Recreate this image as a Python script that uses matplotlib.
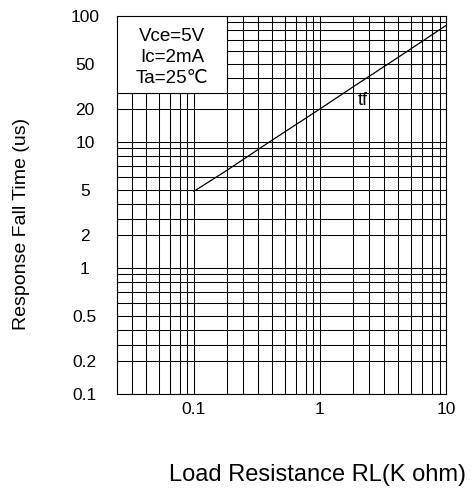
import numpy as np
import matplotlib
matplotlib.use("Agg")
import matplotlib.pyplot as plt
from matplotlib.patches import Rectangle
from matplotlib.ticker import FixedLocator, NullFormatter

plt.rcParams['font.family'] = ['Liberation Sans', 'DejaVu Sans']

# ---- Data ----
rl = [0.1, 0.2, 0.5, 1, 2, 5, 10]          # load resistance (K ohm)
tf = [4.9, 6.6, 10.5, 20, 34, 55, 86]      # fall time (us)

x_ticks = [0.1, 1, 10]
x_labels = ["0.1", "1", "10"]
y_ticks = [0.1, 0.2, 0.5, 1, 2, 5, 10, 20, 50, 100]
y_labels = ["0.1", "0.2", "0.5", "1", "2", "5", "10", "20", "50", "100"]
conditions = ["Vce=5V", "Ic=2mA", "Ta=25℃"]

# ---- Chart paper scale ----
# the printed grid is not a true log grid: inside every decade the
# 2..9 lines sit at these fractions of the decade width
mant = np.arange(1, 11)
mant_pos = np.array([0, 33, 49, 64, 78, 91, 102, 112, 119.5, 126]) / 126.0


def paper_fwd(v):
    v = np.clip(np.asarray(v, dtype=float), 1e-12, None)
    e = np.floor(np.log10(v))
    return e + np.interp(v / 10.0**e, mant, mant_pos)


def paper_inv(u):
    u = np.asarray(u, dtype=float)
    e = np.floor(u)
    return 10.0**e * np.interp(u - e, mant_pos, mant)


minor = (np.arange(2, 10)[:, None] * 10.0**np.arange(-2, 3)).ravel()

# ---- Plot ----
fig, ax = plt.subplots(figsize=(4.75, 4.98), dpi=100)
fig.subplots_adjust(left=0.246, right=0.939, bottom=0.209, top=0.968)

ax.set_xscale('function', functions=(paper_fwd, paper_inv))
ax.set_yscale('function', functions=(paper_fwd, paper_inv))
ax.set_xlim(0.03, 10)
ax.set_ylim(0.1, 100)

ax.plot(rl, tf, color="black", lw=0.9, zorder=2)
ax.text(2.6, 25, "tf", fontsize=13, ha="center", va="center")

ax.xaxis.set_major_locator(FixedLocator(x_ticks))
ax.set_xticklabels(x_labels)
ax.yaxis.set_major_locator(FixedLocator(y_ticks))
ax.set_yticklabels(y_labels)
for axis in (ax.xaxis, ax.yaxis):
    axis.set_minor_locator(FixedLocator(minor))
    axis.set_minor_formatter(NullFormatter())

ax.tick_params(which="both", length=0, labelsize=12.5)
ax.tick_params(axis="x", pad=6)
ax.tick_params(axis="y", pad=23)
for lab in ax.get_yticklabels():
    lab.set_horizontalalignment("center")

ax.grid(True, which="both", color="black", lw=0.75)
for sp in ax.spines.values():
    sp.set_linewidth(0.8)

# conditions box in the top left corner, on the 0.2 / 30 grid lines
ax.add_patch(Rectangle((0.03, 30), 0.2 - 0.03, 100 - 30, facecolor="white",
                       edgecolor="black", lw=0.8, zorder=3))
ax.text(0.167, 0.89, "\n".join(conditions), transform=ax.transAxes,
        fontsize=13.5, ha="center", va="center", linespacing=1.3, zorder=4)

ax.set_xlabel("Load Resistance RL(K ohm)", fontsize=17, va="center")
ax.xaxis.set_label_coords(0.611, -0.215)
ax.set_ylabel("Response Fall Time (us)", fontsize=14, va="center")
ax.yaxis.set_label_coords(-0.289, 0.449)

plt.savefig("out.png", dpi=100)
